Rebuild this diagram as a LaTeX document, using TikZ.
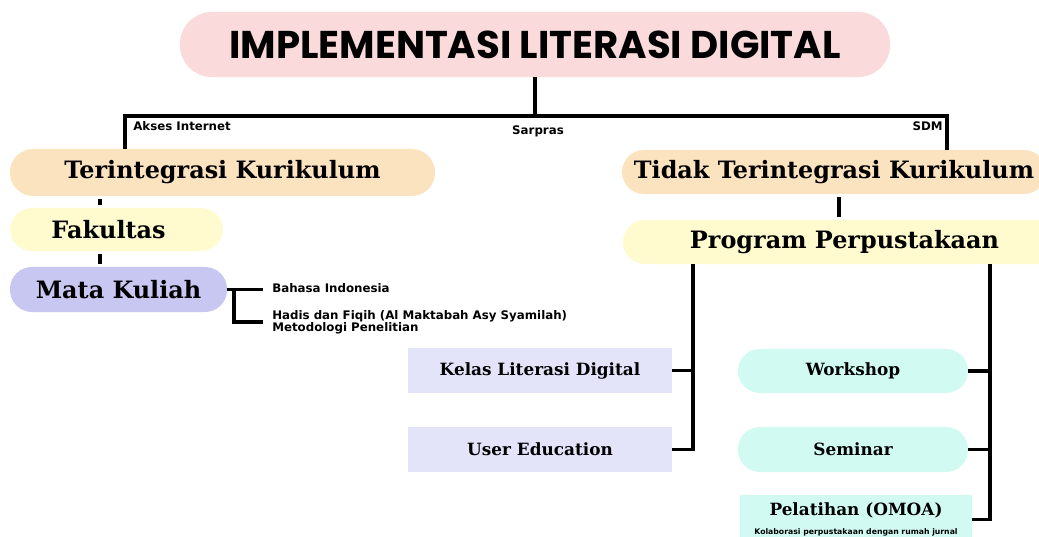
\documentclass[tikz,border=0pt]{standalone}
\usepackage{fontspec}
\usepackage{tikz}
\setmainfont{DejaVu Serif}
\newfontfamily\judulfont{Poppins}
\newfontfamily\ketfont{DejaVu Sans}
\definecolor{merahMuda}{HTML}{FADADB}
\definecolor{jingga}{HTML}{FCE3C0}
\definecolor{kuning}{HTML}{FFFBCF}
\definecolor{ungu}{HTML}{C7C7F2}
\definecolor{unguMuda}{HTML}{E3E3FA}
\definecolor{tosca}{HTML}{D0FAF2}
\tikzset{
	kapsul/.style={rounded corners=0.55cm, minimum height=1.1cm, inner sep=0pt, font=\bfseries\fontsize{17}{19}\selectfont},
	kotak/.style={minimum height=1.125cm, inner sep=0pt, font=\bfseries\fontsize{12}{14}\selectfont},
	garis/.style={line width=2.2pt},
	ket/.style={inner sep=0pt, font=\ketfont\bfseries\fontsize{8.4}{8.7}\selectfont},
}

\begin{document}
\begin{tikzpicture}[x=0.025cm, y=-0.025cm]
		\useasboundingbox (0,0) rectangle (1039,537);
		\clip (0,0) rectangle (1039,537);
		\node[kapsul, fill=merahMuda, minimum width=17.75cm, minimum height=1.625cm, rounded corners=0.8cm, font=\judulfont\bfseries\fontsize{27.5}{30}\selectfont] (judul) at (535,44.5) {IMPLEMENTASI LITERASI DIGITAL};
		\node[kapsul, fill=jingga, minimum width=10.625cm, minimum height=1.175cm, rounded corners=0.58cm] (terint) at (222.5,172.5) {Terintegrasi Kurikulum};
		\node[kapsul, fill=kuning, minimum width=5.325cm, minimum height=1.075cm] (fak) at (116.5,229.5) {Fakultas\kern0.4cm};
		\node[kapsul, fill=ungu, minimum width=5.425cm, minimum height=1.125cm] (mk) at (118.5,289.5) {Mata Kuliah};
		\node[kapsul, fill=jingga, minimum width=10.6cm] (tidak) at (834,172) {Tidak Terintegrasi Kurikulum};
		\node[kapsul, fill=kuning, minimum width=11.075cm] (program) at (844.5,242) {Program Perpustakaan};
		\node[kotak, fill=unguMuda, minimum width=6.6cm] (kelas) at (540,370.5) {Kelas Literasi Digital};
		\node[kotak, fill=unguMuda, minimum width=6.6cm] (usered) at (540,449.5) {User Education};
		\node[kotak, kapsul, fill=tosca, minimum width=5.75cm, font=\bfseries\fontsize{12}{14}\selectfont] (workshop) at (853,371) {Workshop};
		\node[kotak, kapsul, fill=tosca, minimum width=5.75cm, minimum height=1.125cm, font=\bfseries\fontsize{12}{14}\selectfont] (seminar) at (853,449.5) {Seminar};
		\node[kotak, fill=tosca, minimum width=5.8cm, minimum height=1.2cm, anchor=north, align=center] (pelatihan) at (856,495) {Pelatihan (OMOA)\\[-1pt]{\ketfont\bfseries\fontsize{5.5}{6}\selectfont Kolaborasi perpustakaan dengan rumah jurnal}};
		\node[ket, anchor=north west] (akses) at (133,121) {Akses Internet};
		\node[ket] (sarpras) at (538,131) {Sarpras};
		\node[ket, anchor=north east] (sdm) at (943,121) {SDM};
		\node[ket, anchor=west] (bahasa) at (272,288) {Bahasa Indonesia};
		\node[ket, anchor=west, align=left] (hadis) at (272,322) {Hadis dan Fiqih (Al Maktabah Asy Syamilah)\\Metodologi Penelitian};
		\coordinate (cabangKiri) at (125,116);
		\coordinate (cabangKanan) at (947,116);
		\coordinate (siku) at (234,289.5);
		\draw[garis] (judul.south) -- (judul.south |- cabangKiri);
		\draw[garis] (cabangKiri |- terint.north) -- (cabangKiri) -- (cabangKanan) -- (cabangKanan |- tidak.north);
		\draw[garis, shorten <=2pt, shorten >=2pt] (terint.south -| 100,0) -- (fak.north -| 100,0);
		\draw[garis, shorten <=2pt, shorten >=2pt] (fak.south -| 100,0) -- (mk.north -| 100,0);
		\draw[garis] (mk.east) -- ([xshift=-0.22cm]mk.east -| bahasa.west);
		\draw[garis] (siku) |- ([xshift=-0.22cm]hadis.west);
		\draw[garis, shorten <=2pt, shorten >=2pt] (tidak.south -| 839,0) -- (program.north -| 839,0);
		\draw[garis] (program.south -| 693,0) |- (usered.east);
		\draw[garis] (kelas.east) -- (kelas.east -| 693,0);
		\draw[garis] (program.south -| 990,0) |- (pelatihan.east);
		\draw[garis] (workshop.east) -- (workshop.east -| 990,0);
		\draw[garis] (seminar.east) -- (seminar.east -| 990,0);
	\end{tikzpicture}
\end{document}
